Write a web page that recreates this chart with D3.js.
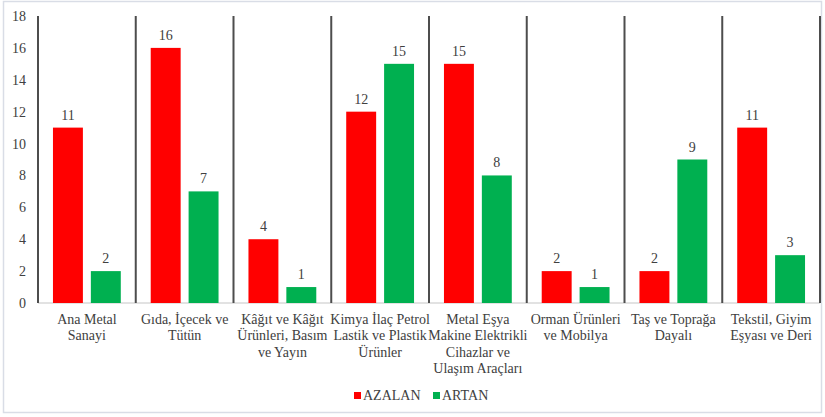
<!doctype html>
<html lang="tr">
<head>
<meta charset="utf-8">
<script src="https://d3js.org/d3.v7.min.js"></script>
<style>
  body { margin: 0; background: #fff; }
</style>
</head>
<body>
<div id="chart"></div>
<script>
// data
const categories = [
  ['Ana Metal', 'Sanayi'],
  ['Gıda, İçecek ve', 'Tütün'],
  ['Kâğıt ve Kâğıt', 'Ürünleri, Basım', 've Yayın'],
  ['Kimya İlaç Petrol', 'Lastik ve Plastik', 'Ürünler'],
  ['Metal Eşya', 'Makine Elektrikli', 'Cihazlar ve', 'Ulaşım Araçları'],
  ['Orman Ürünleri', 've Mobilya'],
  ['Taş ve Toprağa', 'Dayalı'],
  ['Tekstil, Giyim', 'Eşyası ve Deri']
];
const seriesNames = ['AZALAN', 'ARTAN'];
const azalan = [11, 16, 4, 12, 15, 2, 2, 11];
const artan = [2, 7, 1, 15, 8, 1, 9, 3];
const yTicks = [0, 2, 4, 6, 8, 10, 12, 14, 16, 18];

const seriesValues = [azalan, artan];
const colors = ['#ff0000', '#00b050'];
const FONT = 'Liberation Serif';
const TXT = '#404040';

const W = 825, H = 417;
const margin = { top: 16, right: 5, bottom: 114, left: 38 };

const svg = d3.select('#chart').append('svg')
  .attr('width', W)
  .attr('height', H)
  .attr('font-family', FONT);

// outer frame
svg.append('rect')
  .attr('x', 3.5).attr('y', 1.5)
  .attr('width', 818).attr('height', 411)
  .attr('fill', 'none')
  .attr('stroke', '#d9dde6')
  .attr('stroke-width', 1.5);

const catIdx = d3.range(categories.length);

const x = d3.scaleBand()
  .domain(catIdx)
  .range([margin.left, W - margin.right])
  .padding(0);

const xs = d3.scaleBand()
  .domain(seriesNames)
  .range([0, x.bandwidth()])
  .paddingInner(0.21)
  .paddingOuter(0.395);

const y = d3.scaleLinear()
  .domain([0, 18])
  .range([H - margin.bottom, margin.top]);

// baseline
svg.append('line')
  .attr('x1', margin.left).attr('x2', W - margin.right)
  .attr('y1', y(0)).attr('y2', y(0))
  .attr('stroke', '#d9d9d9')
  .attr('stroke-width', 1.5);

// y axis labels
const yAxis = d3.axisLeft(y).tickValues(yTicks).tickSize(0).tickPadding(12);
const gy = svg.append('g')
  .attr('transform', 'translate(' + margin.left + ',0)')
  .call(yAxis)
  .attr('font-family', FONT)
  .attr('font-size', 14);
gy.select('.domain').remove();
gy.selectAll('text')
  .attr('font-family', FONT)
  .attr('fill', TXT);

// category separators
const bounds = catIdx.map(i => x(i)).concat([x(categories.length - 1) + x.bandwidth()]);
svg.selectAll('.sep')
  .data(bounds)
  .enter().append('line')
  .attr('class', 'sep')
  .attr('x1', d => d).attr('x2', d => d)
  .attr('y1', y(18)).attr('y2', y(0))
  .attr('stroke', '#4d4d4d')
  .attr('stroke-width', 2);

// bars
const bars = [];
seriesNames.forEach((s, si) => {
  seriesValues[si].forEach((v, ci) => bars.push({ s: s, si: si, ci: ci, v: v }));
});

svg.selectAll('.bar')
  .data(bars)
  .enter().append('rect')
  .attr('class', 'bar')
  .attr('x', d => x(d.ci) + xs(d.s))
  .attr('y', d => y(d.v))
  .attr('width', xs.bandwidth())
  .attr('height', d => y(0) - y(d.v))
  .attr('fill', d => colors[d.si]);

svg.selectAll('.val')
  .data(bars)
  .enter().append('text')
  .attr('class', 'val')
  .attr('x', d => x(d.ci) + xs(d.s) + xs.bandwidth() / 2)
  .attr('y', d => y(d.v) - 8)
  .attr('text-anchor', 'middle')
  .attr('font-family', FONT)
  .attr('font-size', 14)
  .attr('fill', TXT)
  .text(d => d.v);

// category labels
const cl = svg.selectAll('.cat')
  .data(categories)
  .enter().append('text')
  .attr('class', 'cat')
  .attr('text-anchor', 'middle')
  .attr('font-family', FONT)
  .attr('font-size', 14)
  .attr('fill', TXT)
  .attr('transform', (d, i) => 'translate(' + (x(i) + x.bandwidth() / 2) + ',' + (y(0) + 21) + ')');
cl.selectAll('tspan')
  .data(d => d)
  .enter().append('tspan')
  .attr('x', 0)
  .attr('dy', (d, i) => i === 0 ? 0 : 16.3)
  .text(d => d);

// legend
const legendX = [354, 433];
const lg = svg.selectAll('.leg')
  .data(seriesNames)
  .enter().append('g')
  .attr('class', 'leg')
  .attr('transform', (d, i) => 'translate(' + legendX[i] + ',392)');
lg.append('rect')
  .attr('width', 7).attr('height', 7)
  .attr('fill', (d, i) => colors[i]);
lg.append('text')
  .attr('x', 9).attr('y', 8)
  .attr('font-family', FONT)
  .attr('font-size', 14)
  .attr('fill', TXT)
  .text(d => d);
</script>
</body>
</html>
